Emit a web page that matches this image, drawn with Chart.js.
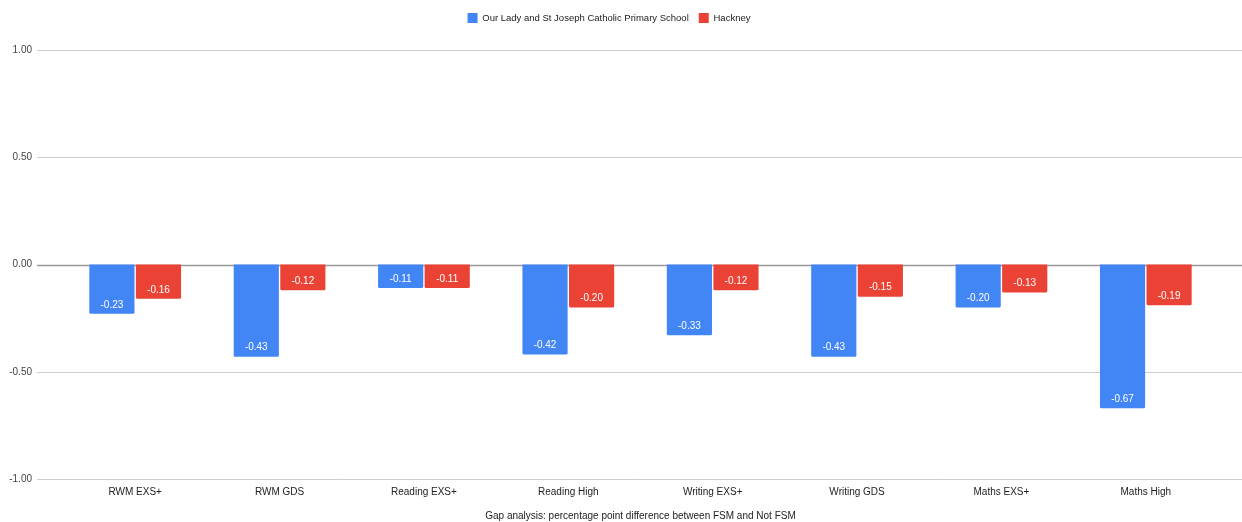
<!DOCTYPE html>
<html>
<head>
<meta charset="utf-8">
<script src="https://cdn.jsdelivr.net/npm/chart.js@4.4.1/dist/chart.umd.min.js"></script>
<style>
  html, body { margin: 0; padding: 0; background: #fff; }
  #wrap { width: 1242px; height: 522px; position: relative; }
</style>
</head>
<body>
<div id="wrap"><canvas id="gapChart"></canvas></div>
<script>
// chart data
const categories = ['RWM EXS+', 'RWM GDS', 'Reading EXS+', 'Reading High', 'Writing EXS+', 'Writing GDS', 'Maths EXS+', 'Maths High'];
const schoolValues = [-0.23, -0.43, -0.11, -0.42, -0.33, -0.43, -0.20, -0.67];
const hackneyValues = [-0.16, -0.12, -0.11, -0.20, -0.12, -0.15, -0.13, -0.19];
const seriesNames = ['Our Lady and St Joseph Catholic Primary School', 'Hackney'];
const yTicks = [-1, -0.5, 0, 0.5, 1];
const axisTitle = 'Gap analysis: percentage point difference between FSM and Not FSM';

const FONT = 'Arial, "Liberation Sans", sans-serif';

// gridlines run wider than the bar area, like the sheets chart
const gridLines = {
    id: 'gridLines',
    beforeDatasetsDraw(chart) {
        const { ctx, chartArea, scales: { y } } = chart;
        ctx.save();
        yTicks.forEach(v => {
            const py = Math.round(y.getPixelForValue(v)) + 0.5;
            ctx.strokeStyle = v === 0 ? '#999999' : '#cccccc';
            ctx.lineWidth = v === 0 ? 1.5 : 1;
            ctx.beginPath();
            ctx.moveTo(chartArea.left - 26, py);
            ctx.lineTo(chart.width, py);
            ctx.stroke();
        });
        ctx.restore();
    }
};

// white value labels near the end of each bar
const barLabels = {
    id: 'barLabels',
    afterDatasetsDraw(chart) {
        const ctx = chart.ctx;
        ctx.save();
        ctx.font = '10px ' + FONT;
        ctx.fillStyle = '#ffffff';
        ctx.textAlign = 'center';
        ctx.textBaseline = 'middle';
        chart.data.datasets.forEach((ds, i) => {
            chart.getDatasetMeta(i).data.forEach((bar, j) => {
                ctx.fillText(ds.data[j].toFixed(2), bar.x, bar.y - 9);
            });
        });
        ctx.restore();
    }
};

// leave more room under the legend
const legendGap = {
    id: 'legendGap',
    beforeInit(chart) {
        const fit = chart.legend.fit;
        chart.legend.fit = function () {
            fit.call(this);
            this.height += 17;
        };
    }
};

new Chart(document.getElementById('gapChart'), {
    type: 'bar',
    data: {
        labels: categories,
        datasets: [
            { label: seriesNames[0], data: schoolValues, backgroundColor: '#4285f4', borderRadius: 1.5, borderSkipped: 'start' },
            { label: seriesNames[1], data: hackneyValues, backgroundColor: '#ea4335', borderRadius: 1.5, borderSkipped: 'start' }
        ]
    },
    options: {
        responsive: true, maintainAspectRatio: false, animation: false,
        categoryPercentage: 0.645, barPercentage: 0.97,
        layout: { padding: { top: 3, right: 24, left: 0, bottom: 0 } },
        scales: {
            x: {
                grid: { display: false, drawTicks: false },
                border: { display: false },
                ticks: { color: '#222222', font: { family: FONT, size: 10 }, padding: 7, maxRotation: 0 },
                title: { display: true, text: axisTitle, color: '#222222', font: { family: FONT, size: 10 }, padding: { top: 12, bottom: 0 } },
                afterFit(scale) { scale.height = 43; }
            },
            y: {
                min: -1, max: 1,
                afterBuildTicks(scale) { scale.ticks = yTicks.map(v => ({ value: v })); },
                grid: { display: false, drawTicks: false },
                border: { display: false },
                ticks: { color: '#444444', font: { family: FONT, size: 10 }, padding: 31, callback: v => v.toFixed(2) },
                afterFit(scale) { scale.width = 63; }
            }
        },
        plugins: {
            legend: {
                position: 'top',
                labels: { boxWidth: 10, boxHeight: 10, color: '#222222', font: { family: FONT, size: 9.5 }, padding: 10 }
            },
            tooltip: { enabled: false }
        }
    },
    plugins: [gridLines, barLabels, legendGap]
});
</script>
</body>
</html>
